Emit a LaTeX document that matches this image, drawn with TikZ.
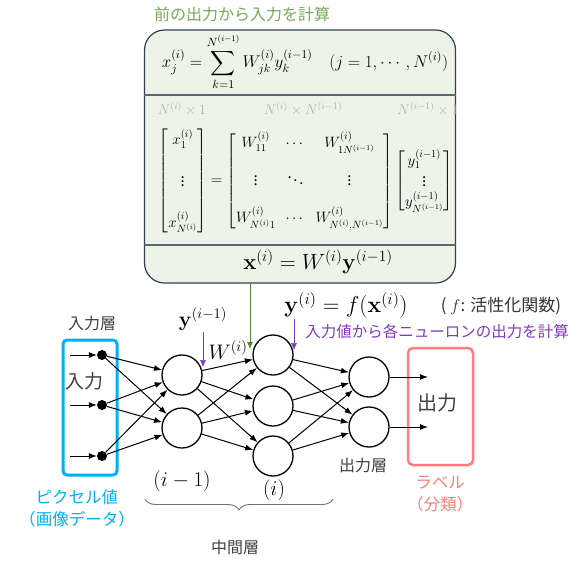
\RequirePackage{fix-cm}
\documentclass[tikz,border=0pt]{standalone}
\usepackage{amsmath}
\usepackage[no-math]{fontspec}
\setmainfont{Noto Sans CJK JP}
\usepackage{tikz}
\usetikzlibrary{arrows.meta, positioning, calc, decorations.pathreplacing}
\definecolor{judulhijau}{RGB}{118,170,86}
\definecolor{panahhijau}{RGB}{84,130,53}
\definecolor{latarhijau}{RGB}{238,243,231}
\definecolor{garisbiru}{RGB}{50,64,80}
\definecolor{ungu}{RGB}{128,58,190}
\definecolor{biru}{RGB}{0,176,240}
\definecolor{merahmuda}{RGB}{255,125,128}
\definecolor{teksabu}{RGB}{64,64,64}

\begin{document}
\begin{tikzpicture}[
    x=1pt, y=-1pt,
    jp/.style={font=\fontsize{16}{19}\selectfont, text=teksabu, inner sep=1pt},
    rumus/.style={font=\fontsize{17}{20}\selectfont, inner sep=1pt},
    label/.style={font=\fontsize{21}{24}\selectfont, inner sep=1pt},
    dimensi/.style={font=\fontsize{14}{16}\selectfont, text=black!30, inner sep=1pt},
    neuron/.style={draw, circle, line width=1.3pt, minimum size=40pt, inner sep=0pt},
    titik/.style={circle, fill, inner sep=0pt, minimum size=10pt},
    panah/.style={-{Latex[length=8pt, width=6pt]}, line width=1pt},
    panahungu/.style={-{Latex[length=7pt, width=6pt]}, draw=ungu, fill=ungu, line width=0.6pt}
  ]
    \useasboundingbox (0,0) rectangle (586,570);

    % kotak rumus
    \node[jp, text=judulhijau] (judul) at (242,14) {前の出力から入力を計算};
    \node[draw=garisbiru, fill=latarhijau, line width=1.2pt, rounded corners=20pt,
          minimum width=311pt, minimum height=253pt] (rumusbox) at (300,156.5) {};
    \draw[garisbiru!80, line width=1.2pt] (rumusbox.west |- 0,95) -- (rumusbox.east |- 0,95);
    \draw[garisbiru!80, line width=1.2pt] (rumusbox.west |- 0,245) -- (rumusbox.east |- 0,245);

    \node[rumus] (jumlah) at (305,62)
      {$\displaystyle x_j^{(i)} = \sum_{k=1}^{N^{(i-1)}} W_{jk}^{(i)} y_k^{(i-1)} \quad (j = 1,\cdots,N^{(i)})$};
    \node[dimensi] (dim1) at (182,109) {$N^{(i)}\times 1$};
    \node[dimensi] (dim2) at (303,109) {$N^{(i)}\times N^{(i-1)}$};
    \node[dimensi] (dim3) at (428,109) {$N^{(i-1)}\times 1$};
    \node[rumus, font=\fontsize{15}{17}\selectfont] (matriks) at (306,181)
      {$\begin{bmatrix} x_1^{(i)} \\[1.35em] \vdots \\[1.35em] x_{N^{(i)}}^{(i)} \end{bmatrix}
        = \begin{bmatrix} W_{11}^{(i)} & \cdots & W_{1N^{(i-1)}}^{(i)} \\[1.1em]
            \vdots & \ddots & \vdots \\[1.1em]
            W_{N^{(i)}1}^{(i)} & \cdots & W_{N^{(i)},N^{(i-1)}}^{(i)} \end{bmatrix}
          \begin{bmatrix} y_1^{(i-1)} \\ \vdots \\ y_{N^{(i-1)}}^{(i-1)} \end{bmatrix}$};
    \node[label, font=\fontsize{22}{25}\selectfont] (vektor) at (318,262)
      {$\mathbf{x}^{(i)} = W^{(i)}\mathbf{y}^{(i-1)}$};

    % jaringan
    \node[draw=biru, line width=3pt, rounded corners=4pt,
          minimum width=54pt, minimum height=135pt] (kotakin) at (90,407.5) {};
    \node[draw=merahmuda, line width=2.5pt, rounded corners=5pt,
          minimum width=65pt, minimum height=117pt] (kotakout) at (440.5,406.5) {};
    \node[jp, font=\fontsize{19}{22}\selectfont] (masuk) at (84,381) {入力};
    \node[jp, font=\fontsize{20}{23}\selectfont] (keluar) at (437,403) {出力};

    \node[titik] (in1) at (102,355) {};
    \node[titik] (in2) at (102,405) {};
    \node[titik] (in3) at (102,456) {};
    \node[neuron] (a1) at (182,375) {};
    \node[neuron] (a2) at (182,428) {};
    \node[neuron] (b1) at (273,355) {};
    \node[neuron] (b2) at (273,406) {};
    \node[neuron] (b3) at (273,456) {};
    \node[neuron] (c1) at (369,377) {};
    \node[neuron] (c2) at (369,427) {};

    \coordinate (s1) at (70,355);
    \coordinate (s2) at (70,405);
    \coordinate (s3) at (70,456);
    \coordinate (o1) at (428,377);
    \coordinate (o2) at (428,427);

    \foreach \i in {1,2,3} \draw[panah] (s\i) -- (in\i);
    \foreach \i in {1,2,3} \foreach \j in {1,2} \draw[panah] (in\i) -- (a\j);
    \foreach \i in {1,2} \foreach \j in {1,2,3} \draw[panah] (a\i) -- (b\j);
    \foreach \i in {1,2,3} \foreach \j in {1,2} \draw[panah] (b\i) -- (c\j);
    \foreach \i in {1,2} \draw[panah] (c\i) -- (o\i);

    % label
    \node[jp] (lapisin) at (92,323) {入力層};
    \node[jp] (lapisout) at (363,465) {出力層};
    \node[jp] (lapistengah) at (235,547) {中間層};
    \node[jp, text=biru, align=center, font=\fontsize{16.5}{22}\selectfont] (piksel) at (77,508)
      {ピクセル値\\（画像データ）};
    \node[jp, text=merahmuda, align=center, font=\fontsize{16.5}{22}\selectfont] (kelas) at (440,494)
      {ラベル\\（分類）};

    \node[label] (ylama) at (203,319) {$\mathbf{y}^{(i-1)}$};
    \node[label] (bobot) at (228,350) {$W^{(i)}$};
    \node[label, font=\fontsize{23}{26}\selectfont] (ybaru) at (346,305) {$\mathbf{y}^{(i)} = f(\mathbf{x}^{(i)})$};
    \node[jp, text=black!80, font=\fontsize{17}{20}\selectfont] (aktivasi) at (501,306) {( $f$: 活性化関数)};
    \node[jp, text=ungu, font=\fontsize{15.5}{18}\selectfont] (hitung) at (437,332)
      {入力値から各ニューロンの出力を計算};
    \node[label] (idxa) at (182,481) {$(i-1)$};
    \node[label] (idxb) at (274,490) {$(i)$};

    \coordinate (u1) at (203,367);
    \coordinate (u2) at (294,350);
    \coordinate (hijau) at (250,349);
    \draw[panahungu] (ylama.south) -- (u1);
    \draw[panahungu] (u2 |- 0,319) -- (u2);
    \draw[-{Latex[length=7pt, width=6pt]}, panahhijau, line width=0.8pt] (rumusbox.south -| hijau) -- (hijau);

    \draw[decorate, decoration={brace, amplitude=11pt}, black!55, line width=0.9pt]
      (333,499) -- (145,499);
  \end{tikzpicture}
\end{document}
